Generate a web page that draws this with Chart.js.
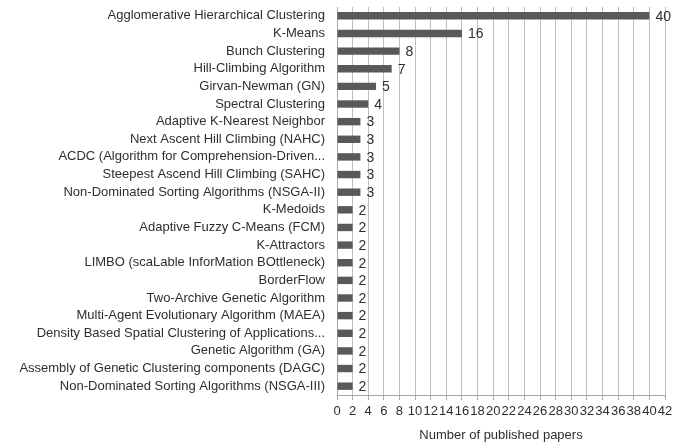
<!DOCTYPE html>
<html>
<head>
<meta charset="utf-8">
<script src="https://cdn.jsdelivr.net/npm/chart.js@4.4.0/dist/chart.umd.min.js"></script>
<style>
  html, body { margin: 0; padding: 0; background: #fff; }
  #wrap { width: 690px; height: 448px; position: relative; }
</style>
</head>
<body>
<div id="wrap"><canvas id="c"></canvas></div>
<script>
// categories (top to bottom) and number of papers
const algorithms = [
  "Agglomerative Hierarchical Clustering",
  "K-Means",
  "Bunch Clustering",
  "Hill-Climbing Algorithm",
  "Girvan-Newman (GN)",
  "Spectral Clustering",
  "Adaptive K-Nearest Neighbor",
  "Next Ascent Hill Climbing (NAHC)",
  "ACDC (Algorithm for Comprehension-Driven...",
  "Steepest Ascend Hill Climbing (SAHC)",
  "Non-Dominated Sorting Algorithms (NSGA-II)",
  "K-Medoids",
  "Adaptive Fuzzy C-Means (FCM)",
  "K-Attractors",
  "LIMBO (scaLable InforMation BOttleneck)",
  "BorderFlow",
  "Two-Archive Genetic Algorithm",
  "Multi-Agent Evolutionary Algorithm (MAEA)",
  "Density Based Spatial Clustering of Applications...",
  "Genetic Algorithm (GA)",
  "Assembly of Genetic Clustering components (DAGC)",
  "Non-Dominated Sorting Algorithms (NSGA-III)"
];
const papers = [40, 16, 8, 7, 5, 4, 3, 3, 3, 3, 3, 2, 2, 2, 2, 2, 2, 2, 2, 2, 2, 2];
const xMin = 0;
const xMax = 42;
const xStep = 2;
const xTitle = "Number of published papers";

const FONT = "'Liberation Sans', Arial, sans-serif";
const TEXT = "#2e2e2e";

// value labels right of each bar
const valueLabels = {
  id: "valueLabels",
  afterDatasetsDraw(chart) {
    const ctx = chart.ctx;
    const meta = chart.getDatasetMeta(0);
    ctx.save();
    ctx.font = "14px " + FONT;
    ctx.fillStyle = TEXT;
    ctx.textAlign = "left";
    ctx.textBaseline = "middle";
    meta.data.forEach((bar, i) => {
      ctx.fillText(String(papers[i]), bar.x + 6, bar.y + 1);
    });
    ctx.restore();
  }
};

new Chart(document.getElementById("c"), {
  type: "bar",
  data: {
    labels: algorithms,
    datasets: [{
      data: papers,
      backgroundColor: "#595959",
      barPercentage: 0.42,
      categoryPercentage: 1
    }]
  },
  options: {
    indexAxis: "y",
    responsive: true,
    maintainAspectRatio: false,
    animation: false,
    layout: { padding: { top: 7, right: 25, bottom: 0, left: 0 } },
    plugins: {
      legend: { display: false },
      tooltip: { enabled: false }
    },
    scales: {
      x: {
        min: xMin,
        max: xMax,
        afterFit(scale) { scale.height = 53; },
        grid: { color: "#bfbfbf", tickLength: 5, tickColor: "#a6a6a6" },
        border: { color: "#a6a6a6" },
        ticks: {
          stepSize: xStep,
          autoSkip: false,
          maxRotation: 0,
          padding: 4,
          color: TEXT,
          font: { family: FONT, size: 13 }
        },
        title: {
          display: true,
          text: xTitle,
          color: TEXT,
          font: { family: FONT, size: 13 },
          padding: { top: 0, bottom: 5 }
        }
      },
      y: {
        afterFit(scale) {
          scale.width = 337;
          scale.paddingTop = 0;
          scale.paddingBottom = 0;
        },
        grid: { display: false, drawTicks: false },
        border: { display: true, color: "#a6a6a6" },
        ticks: {
          autoSkip: false,
          padding: 12,
          color: TEXT,
          font: { family: FONT, size: 13 }
        }
      }
    }
  },
  plugins: [valueLabels]
});
</script>
</body>
</html>
